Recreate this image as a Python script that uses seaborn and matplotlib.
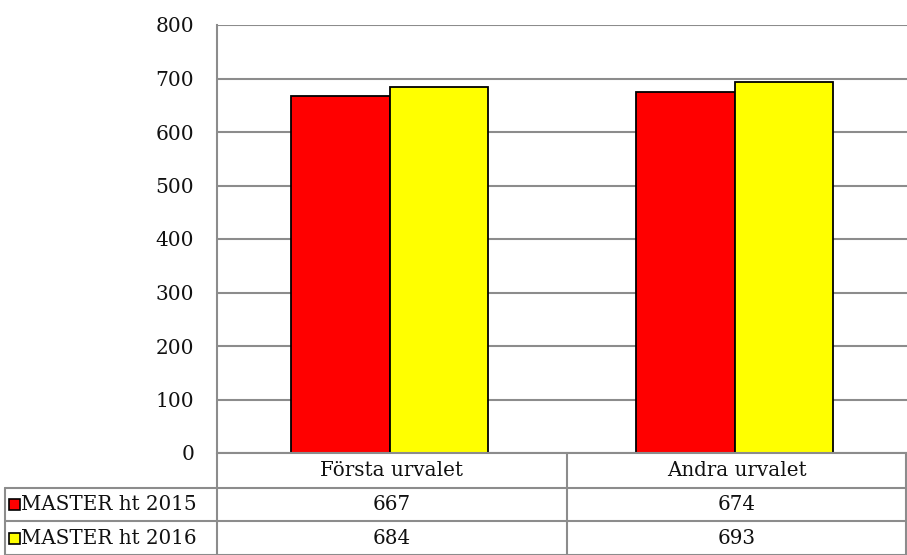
import matplotlib
matplotlib.use("Agg")
import matplotlib.pyplot as plt
import seaborn as sns
import pandas as pd
from matplotlib.patches import Rectangle

categories = ["Första urvalet", "Andra urvalet"]
series = ["MASTER ht 2015", "MASTER ht 2016"]
values_2015 = [667, 674]
values_2016 = [684, 693]
colors = ["#FF0000", "#FFFF00"]
yticks = [0, 100, 200, 300, 400, 500, 600, 700, 800]

df = pd.DataFrame({
    "cat": categories * 2,
    "series": [series[0]] * 2 + [series[1]] * 2,
    "value": values_2015 + values_2016,
})

sns.set_theme(style="white")
plt.rcParams["font.family"] = ["DejaVu Serif"]

W, H = 907, 555
fig = plt.figure(figsize=(W / 100, H / 100), dpi=100)
L, R, T, B = 217, 907, 25, 453
ax = fig.add_axes([L / W, (H - B) / H, (R - L) / W, (B - T) / H])

sns.barplot(data=df, x="cat", y="value", hue="series", order=categories,
            hue_order=series, palette=colors, width=0.5714, ax=ax,
            edgecolor="black", linewidth=1.3, saturation=1, legend=False, zorder=3)

ax.set_xlim(-0.5, 1.5)
ax.set_ylim(0, 800)
ax.set_yticks(yticks)
ax.set_yticklabels([str(v) for v in yticks], fontsize=14.5, color="#111111")
ax.tick_params(axis="y", length=0, pad=16.5)
ax.set_xticks([])
ax.set_xlabel("")
ax.set_ylabel("")
ax.grid(axis="y", color="#8C8C8C", linewidth=1.5, zorder=0)
for s in ["top", "right", "bottom"]:
    ax.spines[s].set_visible(False)
ax.spines["left"].set_color("#8C8C8C")
ax.spines["left"].set_linewidth(1.5)

# data table overlay (pixel coordinates)
ov = fig.add_axes([0, 0, 1, 1], facecolor="none")
ov.set_xlim(0, W)
ov.set_ylim(H, 0)
ov.axis("off")
gc = "#8C8C8C"
lw = 1.5
ov.plot([217, 907], [453, 453], color=gc, lw=lw)
ov.plot([5, 907], [488, 488], color=gc, lw=lw)
ov.plot([5, 907], [521, 521], color=gc, lw=lw)
ov.plot([5, 907], [554.5, 554.5], color=gc, lw=lw)
ov.plot([217, 217], [453, 555], color=gc, lw=lw)
ov.plot([567, 567], [453, 555], color=gc, lw=lw)
ov.plot([906, 906], [453, 555], color=gc, lw=lw)
ov.plot([5, 5], [488, 555], color=gc, lw=lw)

col_centers = [392, 737]
row_centers = [470.5, 504.5, 538]
fs = 14.3
for c, x in zip(categories, col_centers):
    ov.text(x, row_centers[0], c, ha="center", va="center", fontsize=fs, color="#111111")
for vals, y in zip([values_2015, values_2016], row_centers[1:]):
    for v, x in zip(vals, col_centers):
        ov.text(x, y, str(v), ha="center", va="center", fontsize=fs, color="#111111")
for name, col, y in zip(series, colors, row_centers[1:]):
    ov.add_patch(Rectangle((9, y - 5.5), 11, 11, facecolor=col, edgecolor="black", lw=1.2))
    ov.text(21, y, name, ha="left", va="center", fontsize=fs, color="#111111")

fig.savefig("out.png", dpi=100)
